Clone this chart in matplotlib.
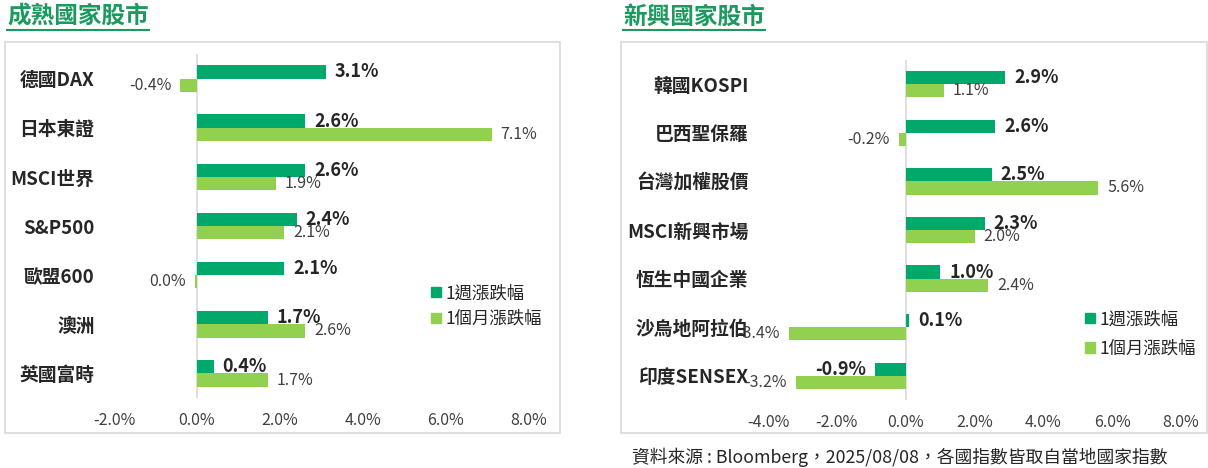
import matplotlib
matplotlib.use("Agg")
import matplotlib.pyplot as plt
import numpy as np
from matplotlib.patches import Patch, Rectangle
from matplotlib.lines import Line2D

plt.rcParams["font.family"] = ["Noto Sans CJK TC", "DejaVu Sans"]

# data
mature_names = ["德國DAX", "日本東證", "MSCI世界", "S&P500", "歐盟600", "澳洲", "英國富時"]
mature_week = [3.1, 2.6, 2.6, 2.4, 2.1, 1.7, 0.4]
mature_month = [-0.4, 7.1, 1.9, 2.1, -0.04, 2.6, 1.7]

emerging_names = ["韓國KOSPI", "巴西聖保羅", "台灣加權股價", "MSCI新興市場",
                  "恆生中國企業", "沙烏地阿拉伯", "印度SENSEX"]
emerging_week = [2.9, 2.6, 2.5, 2.3, 1.0, 0.1, -0.9]
emerging_month = [1.1, -0.2, 5.6, 2.0, 2.4, -3.4, -3.2]

mature_ticks = [-2, 0, 2, 4, 6, 8]
emerging_ticks = [-4, -2, 0, 2, 4, 6, 8]

series_labels = ["1週漲跌幅", "1個月漲跌幅"]
source_note = "資料來源 : Bloomberg，2025/08/08，各國指數皆取自當地國家指數"

W, H = 1208, 468
DARK = "#00A86B"
LIGHT = "#92D050"
TITLE_GREEN = "#1A9A5E"
BORDER = "#D9D9D9"
TXT = "#262626"


def pct(v):
    s = f"{v:.1f}"
    if s == "-0.0":
        s = "0.0"
    return s + "%"


def px_axes(fig, x0, y0, x1, y1):
    return fig.add_axes([x0 / W, 1 - y1 / H, (x1 - x0) / W, (y1 - y0) / H])


def px_box(fig, x0, y0, x1, y1):
    fig.add_artist(Rectangle((x0 / W, 1 - y1 / H), (x1 - x0) / W, (y1 - y0) / H,
                             transform=fig.transFigure, fill=False,
                             ec=BORDER, lw=1.2))


def draw_panel(fig, ax_px, ticks, names, week, month, legend_xy, legend_space):
    ax = px_axes(fig, *ax_px)
    y = np.arange(len(names))
    h = 0.27
    ax.barh(y - h / 2, week, height=h, color=DARK, zorder=2)
    ax.barh(y + h / 2, month, height=h, color=LIGHT, zorder=2)
    ax.axvline(0, color=BORDER, lw=1.2, zorder=1)
    ax.set_xlim(ticks[0], ticks[-1])
    ax.set_ylim(len(names) - 0.5, -0.5)
    ax.set_xticks(ticks)
    ax.set_xticklabels([f"{t:.1f}%" for t in ticks])
    ax.set_yticks(y)
    ax.set_yticklabels(names)
    for s in ax.spines.values():
        s.set_visible(False)
    ax.tick_params(length=0)
    ax.tick_params(axis="x", pad=10, labelsize=11.5, labelcolor="#404040")
    ax.tick_params(axis="y", pad=14, labelsize=13.5, labelcolor=TXT)
    for lab in ax.get_yticklabels():
        lab.set_fontweight("semibold")

    for i, v in enumerate(week):
        off = 6.5 if v >= 0 else -6.5
        ax.annotate(pct(v), (v, i - h / 2), xytext=(off, 0), textcoords="offset points",
                    ha="left" if v >= 0 else "right", va="center",
                    fontsize=13, fontweight="semibold", color=TXT, zorder=3)
    for i, v in enumerate(month):
        off = 6.5 if v >= 0 else -6.5
        ax.annotate(pct(v), (v, i + h / 2), xytext=(off, 0), textcoords="offset points",
                    ha="left" if v >= 0 else "right", va="center",
                    fontsize=11.5, color="#404040", zorder=3)

    handles = [Patch(color=DARK), Patch(color=LIGHT)]
    fig.legend(handles, series_labels, loc="center left",
               bbox_to_anchor=(legend_xy[0] / W, 1 - legend_xy[1] / H),
               frameon=False, fontsize=12.5, handlelength=0.55, handleheight=0.55,
               handletextpad=0.3, borderpad=0, borderaxespad=0,
               labelspacing=legend_space, labelcolor=TXT)
    return ax


fig = plt.figure(figsize=(W / 100, H / 100), dpi=100)

px_box(fig, 5, 42, 560, 433)
px_box(fig, 621, 42, 1207, 433)

draw_panel(fig, (114, 54, 529, 398), mature_ticks, mature_names,
           mature_week, mature_month, (431, 306), 0.45)
draw_panel(fig, (768, 60, 1181, 400), emerging_ticks, emerging_names,
           emerging_week, emerging_month, (1085, 334), 0.65)

# titles with underline
titles = []
for x, t in [(7, "成熟國家股市"), (623, "新興國家股市")]:
    titles.append(fig.text(x / W, 1 - 17 / H, t, fontsize=17, fontweight="bold",
                           color=TITLE_GREEN, ha="left", va="center"))
fig.canvas.draw()
r = fig.canvas.get_renderer()
for t in titles:
    bb = t.get_window_extent(r)
    fig.add_artist(Line2D([bb.x0 / W, bb.x1 / W], [1 - 30 / H, 1 - 30 / H],
                          transform=fig.transFigure, color=TITLE_GREEN, lw=1.5))

fig.text(632 / W, 1 - 457 / H, source_note, fontsize=12.8, color=TXT,
         ha="left", va="center")

fig.savefig("out.png", dpi=100)
